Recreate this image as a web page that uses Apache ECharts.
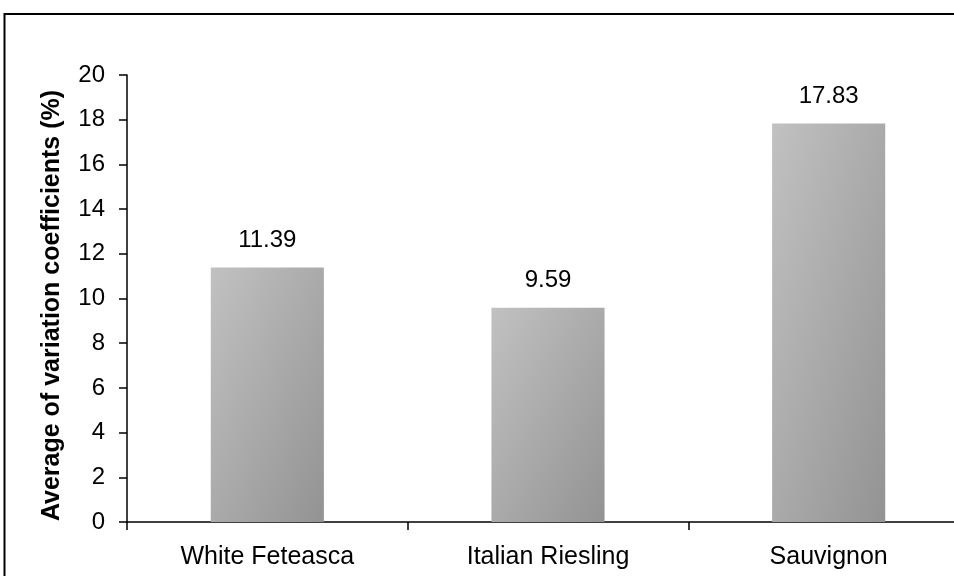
<!DOCTYPE html>
<html>
<head>
<meta charset="utf-8">
<script src="https://cdn.jsdelivr.net/npm/echarts@6/dist/echarts.min.js"></script>
<style>
html,body{margin:0;padding:0;background:#fff;overflow:hidden;}
#chart{width:980px;height:576px;}
</style>
</head>
<body>
<div id="chart"></div>
<script>
var categories = ['White Feteasca', 'Italian Riesling', 'Sauvignon'];
var values = [11.39, 9.59, 17.83];
var yTicks = [0, 2, 4, 6, 8, 10, 12, 14, 16, 18, 20];
var yTitle = 'Average of variation coefficients (%)';

var font = '"Liberation Sans", Arial, sans-serif';
var lightGray = '#c1c1c1';
var darkGray = '#939393';
var chart = echarts.init(document.getElementById('chart'), null, {renderer: 'canvas'});

function gradientFor(w, h) {
  // isolines run along the box's anti-diagonal (shape-normalised diagonal gradient)
  var d = w * w + h * h;
  var x2 = d ? 2 * h * h / d : 1;
  var y2 = d ? 2 * w * w / d : 1;
  return new echarts.graphic.LinearGradient(0, 0, x2, y2, [
    {offset: 0, color: lightGray},
    {offset: 1, color: darkGray}
  ]);
}

chart.setOption({
  animation: false,
  backgroundColor: '#fff',
  graphic: [{
    type: 'rect',
    shape: {x: 4.5, y: 14, width: 1000, height: 620},
    style: {fill: 'none', stroke: '#000', lineWidth: 2},
    silent: true
  }],
  grid: {left: 127, top: 75, bottom: 54, width: 842, containLabel: false},
  xAxis: {
    type: 'category',
    data: categories,
    axisLine: {lineStyle: {color: '#000', width: 1.5}},
    axisTick: {show: true, length: 8, alignWithLabel: false, lineStyle: {color: '#000', width: 1.5}},
    axisLabel: {color: '#000', fontSize: 25, fontFamily: font, margin: 23}
  },
  yAxis: {
    type: 'value',
    min: yTicks[0],
    max: yTicks[yTicks.length - 1],
    interval: 2,
    name: yTitle,
    nameLocation: 'middle',
    nameGap: 62,
    nameTextStyle: {color: '#000', fontSize: 25, fontWeight: 'bold', fontFamily: font, padding: [0, 14, 0, 0]},
    splitLine: {show: false},
    axisLine: {show: true, lineStyle: {color: '#000', width: 1.5}},
    axisTick: {show: true, length: 8, lineStyle: {color: '#000', width: 1.5}},
    axisLabel: {color: '#000', fontSize: 24, fontFamily: font, margin: 22}
  },
  series: [{
    type: 'bar',
    data: values,
    barWidth: '40.3%',
    itemStyle: {color: lightGray},
    label: {
      show: true,
      position: 'top',
      distance: 15,
      color: '#000',
      fontSize: 24,
      fontFamily: font,
      formatter: function (p) { return p.value.toFixed(2); }
    }
  }]
});

// apply per-bar gradients based on the library's own bar layout
var sData = chart.getModel().getSeriesByIndex(0).getData();
var styled = values.map(function (v, i) {
  var lay = sData.getItemLayout(i);
  return {value: v, itemStyle: {color: gradientFor(Math.abs(lay.width), Math.abs(lay.height))}};
});
chart.setOption({series: [{data: styled}]});
</script>
</body>
</html>
